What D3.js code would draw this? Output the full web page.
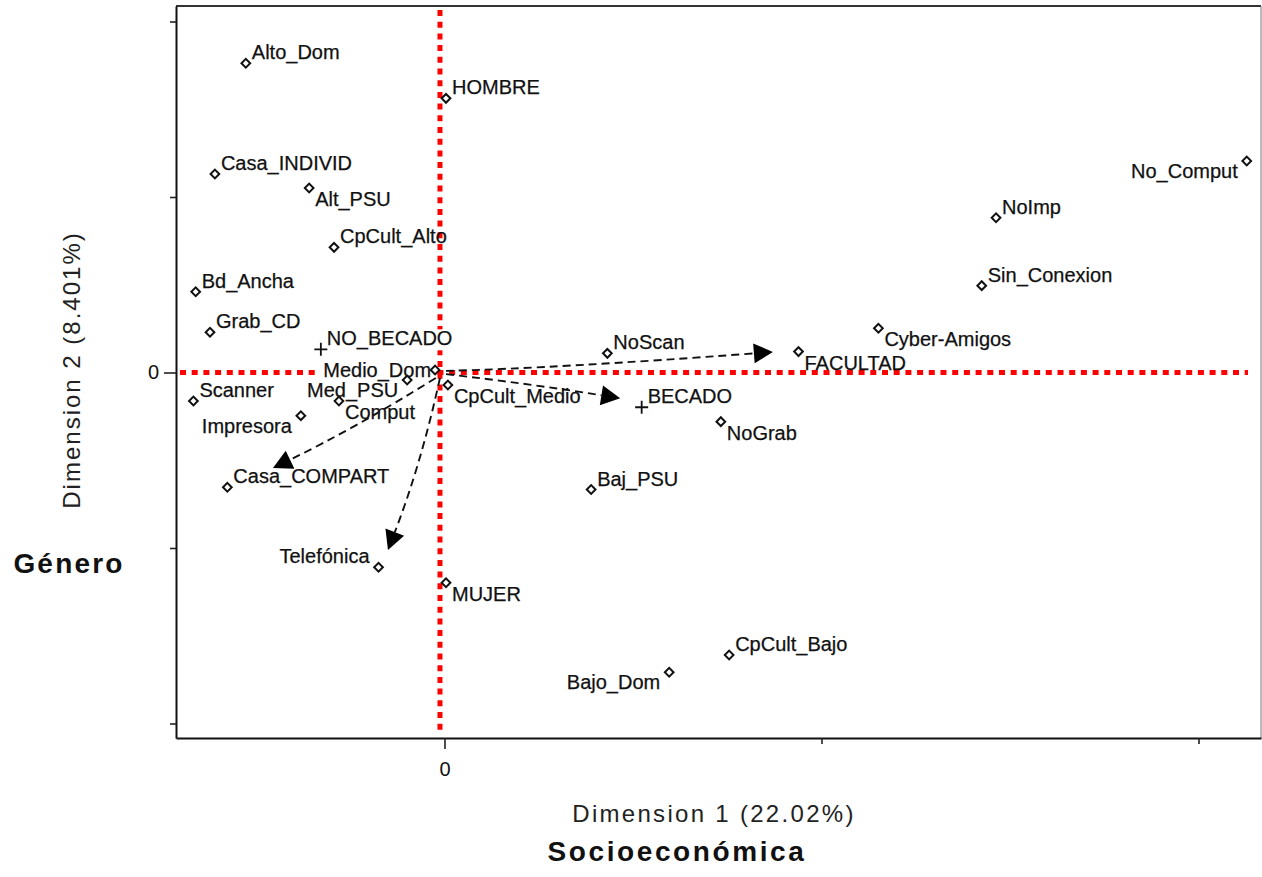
<!DOCTYPE html>
<html><head><meta charset="utf-8">
<script src="https://cdn.jsdelivr.net/npm/d3@7"></script>
<style>
body{margin:0;background:#fff;}
svg{display:block;font-family:"Liberation Sans",Arial,Helvetica,sans-serif;}
</style>
</head><body>
<svg id="chart" width="1262" height="877"></svg>
<script>
// ---- data ----
const categories = ["Alto_Dom","HOMBRE","Casa_INDIVID","Alt_PSU","CpCult_Alto","Bd_Ancha","Grab_CD","NO_BECADO","Medio_Dom","Scanner","Med_PSU","Comput","Impresora","CpCult_Medio","Casa_COMPART","Telefónica","MUJER","NoScan","FACULTAD","Cyber-Amigos","BECADO","NoGrab","Baj_PSU","No_Comput","NoImp","Sin_Conexion","CpCult_Bajo","Bajo_Dom"];
const dim1 = [-0.527,0.004,-0.609,-0.359,-0.293,-0.660,-0.622,-0.328,-0.025,-0.666,-0.099,-0.280,-0.381,0.009,-0.576,-0.175,0.004,0.432,0.939,1.151,0.523,0.733,0.389,2.128,1.463,1.425,0.755,0.596];
const dim2 = [1.762,1.562,1.131,1.051,0.713,0.460,0.229,0.132,0.014,-0.162,-0.043,-0.162,-0.246,-0.071,-0.654,-1.110,-1.198,0.109,0.119,0.252,-0.198,-0.280,-0.667,1.205,0.882,0.495,-1.610,-1.708];
const supplementary = ["NO_BECADO","BECADO"];      // drawn as "+"
const xTicks = [0,1,2];
const xTickLabels = ["0","",""];
const yTicks = [-2,-1,0,1,2];
const yTickLabels = ["","","0","",""];
const refX = -0.012, refY = 0;                     // red reference lines
// arrows (data units): from, via (curve control), to
const arrowFrom = [[0.004,0.009],[0.004,-0.009],[-0.023,-0.031],[-0.012,-0.031]];
const arrowVia  = [[0.306,0.026],[0.228,-0.065],[-0.241,-0.322],[-0.062,-0.521]];
const arrowTo   = [[0.871,0.117],[0.466,-0.147],[-0.455,-0.544],[-0.150,-1.011]];
const xTitle = "Dimension 1 (22.02%)";
const yTitle = "Dimension 2 (8.401%)";
const xGroupTitle = "Socioeconómica";
const yGroupTitle = "Género";

// ---- label placement (style) ----
const place = {
  "Alt_PSU":"lr","Comput":"lr","CpCult_Medio":"lr","MUJER":"lr","FACULTAD":"lr","Cyber-Amigos":"lr","NoGrab":"lr",
  "Med_PSU":"ll","Impresora":"ll","No_Comput":"ll","Bajo_Dom":"ll",
  "Telefónica":"ul","Medio_Dom":"l"
};
const placeStyle = {
  ur:{a:"start",dx:6,dy:-4}, lr:{a:"start",dx:6,dy:18}, ll:{a:"end",dx:-9,dy:17},
  ul:{a:"end",dx:-9,dy:-4}, l:{a:"end",dx:-4,dy:7}
};
const labelBg = ["NO_BECADO","Medio_Dom"];

// ---- chart ----
const svg = d3.select("#chart");
const L = 176, R = 1261, T = 6, B = 738;
const x = d3.scaleLinear().domain([-0.7122, 2.1658]).range([L, R]);
const y = d3.scaleLinear().domain([-2.0826, 2.0883]).range([B, T]);

// frame top/right
svg.append("line").attr("x1",L).attr("x2",R).attr("y1",T).attr("y2",T).attr("stroke","#333").attr("stroke-width",2);
svg.append("line").attr("x1",R).attr("x2",R).attr("y1",T).attr("y2",B).attr("stroke","#777").attr("stroke-width",1);

// axes
const gx = svg.append("g").attr("transform",`translate(0,${B})`)
  .call(d3.axisBottom(x).tickValues(xTicks).tickFormat((d,i)=>xTickLabels[i]).tickSize(6).tickSizeOuter(0));
const gy = svg.append("g").attr("transform",`translate(${L},0)`)
  .call(d3.axisLeft(y).tickValues(yTicks).tickFormat((d,i)=>yTickLabels[i]).tickSize(6).tickSizeOuter(0));
[gx,gy].forEach(g=>{
  g.select(".domain").attr("stroke","#111").attr("stroke-width",2);
  g.selectAll(".tick line").attr("stroke","#222").attr("stroke-width",1.6);
  g.selectAll(".tick text").attr("fill","#111").style("font-size","20px").style("font-family","'Liberation Sans',Arial,sans-serif");
});
gx.selectAll(".tick").filter((d,i)=>xTickLabels[i]!=="").select("line").attr("y2",11);
gx.selectAll(".tick text").attr("y",24);
gy.selectAll(".tick").filter((d,i)=>yTickLabels[i]!=="").select("line").attr("x2",-12);
gy.selectAll(".tick text").attr("x",-17);

// red reference lines
svg.append("line").attr("x1",x(refX)).attr("x2",x(refX)).attr("y1",T+4).attr("y2",B-8)
  .attr("stroke","#ff0000").attr("stroke-width",5).attr("stroke-dasharray","6,5.7");
svg.append("line").attr("x1",L+4).attr("x2",R-13).attr("y1",y(refY)).attr("y2",y(refY))
  .attr("stroke","#ff0000").attr("stroke-width",5).attr("stroke-dasharray","6,5.7");

const pts = categories.map((c,i)=>({name:c, x:x(dim1[i]), y:y(dim2[i]), sup:supplementary.includes(c), p:placeStyle[place[c]||"ur"]}));

// label background boxes
const bgLayer = svg.append("g");
// arrows
const arrowLayer = svg.append("g");
arrowFrom.forEach((f,i)=>{
  const p0=[x(f[0]),y(f[1])], c=[x(arrowVia[i][0]),y(arrowVia[i][1])], p2=[x(arrowTo[i][0]),y(arrowTo[i][1])];
  let ux=p2[0]-c[0], uy=p2[1]-c[1]; const len=Math.hypot(ux,uy); ux/=len; uy/=len;
  const hl=19, hw=10;
  const b=[p2[0]-ux*hl, p2[1]-uy*hl];
  const path=d3.path(); path.moveTo(p0[0],p0[1]); path.quadraticCurveTo(c[0],c[1],b[0],b[1]);
  arrowLayer.append("path").attr("d",path.toString()).attr("fill","none").attr("stroke","#111")
    .attr("stroke-width",1.9).attr("stroke-dasharray","8,5");
  const nx=-uy, ny=ux;
  arrowLayer.append("path").attr("d",`M${p2[0]},${p2[1]}L${b[0]+nx*hw},${b[1]+ny*hw}L${b[0]-nx*hw},${b[1]-ny*hw}Z`).attr("fill","#000");
});

// markers
const mk = svg.append("g");
mk.selectAll("path.d").data(pts.filter(d=>!d.sup)).join("path")
  .attr("transform",d=>`translate(${d.x},${d.y}) rotate(45)`)
  .attr("d",d3.symbol(d3.symbolSquare,38)())
  .attr("fill","#fff").attr("stroke","#111").attr("stroke-width",2);
mk.selectAll("path.p").data(pts.filter(d=>d.sup)).join("path")
  .attr("d",d=>`M${d.x-6.5},${d.y}H${d.x+6.5}M${d.x},${d.y-6.5}V${d.y+6.5}`)
  .attr("stroke","#111").attr("stroke-width",1.8);

// labels
const lab = svg.append("g").selectAll("text").data(pts).join("text")
  .attr("x",d=>d.x+d.p.dx).attr("y",d=>d.y+d.p.dy).attr("text-anchor",d=>d.p.a)
  .attr("fill","#111").attr("stroke","#111").attr("stroke-width",0.25)
  .style("font-size","20px").text(d=>d.name);
lab.filter(d=>labelBg.includes(d.name)).each(function(){
  const bb=this.getBBox();
  bgLayer.append("rect").attr("x",bb.x-7).attr("y",bb.y+2).attr("width",bb.width+13).attr("height",bb.height-2).attr("fill","#fff");
});

// titles
svg.append("text").attr("x",714).attr("y",822).attr("text-anchor","middle").attr("fill","#222")
  .style("font-size","24px").style("letter-spacing","2.3px").text(xTitle);
svg.append("text").attr("transform","translate(80,370) rotate(-90)").attr("text-anchor","middle").attr("fill","#222")
  .style("font-size","24px").style("letter-spacing","2px").text(yTitle);
svg.append("text").attr("x",677).attr("y",861).attr("text-anchor","middle").attr("fill","#111")
  .style("font-size","28px").style("font-weight","bold").style("letter-spacing","2.6px").text(xGroupTitle);
svg.append("text").attr("x",69).attr("y",573).attr("text-anchor","middle").attr("fill","#111")
  .style("font-size","28px").style("font-weight","bold").style("letter-spacing","2.2px").text(yGroupTitle);
</script>
</body></html>
